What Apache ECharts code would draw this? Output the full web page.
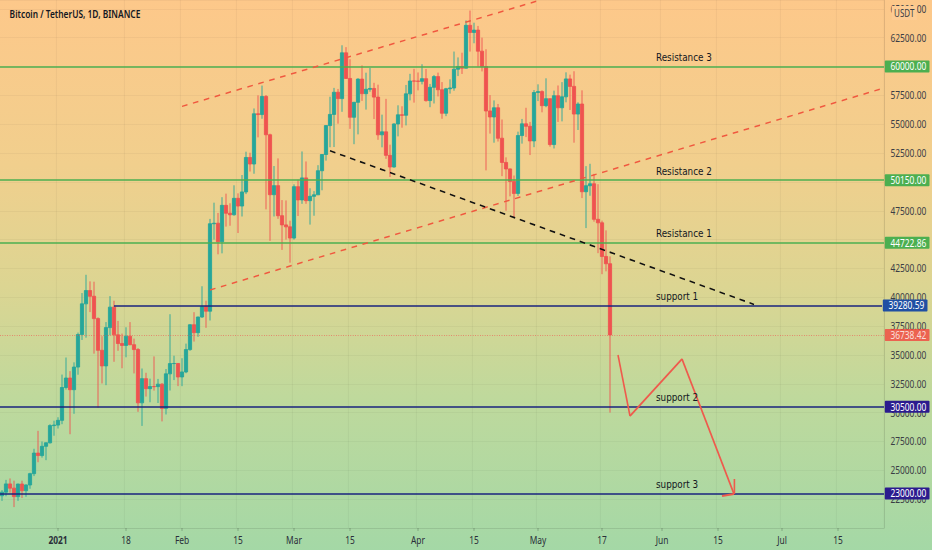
<!DOCTYPE html>
<html>
<head>
<meta charset="utf-8">
<title>Bitcoin / TetherUS, 1D, BINANCE</title>
<script src="https://cdn.jsdelivr.net/npm/echarts@6/dist/echarts.min.js"></script>
<style>
  html, body { margin: 0; padding: 0; overflow: hidden; }
  body {
    width: 932px;
    height: 550px;
    background: linear-gradient(180deg, #fdc88a 0%, #f1cf8d 30%, #dcd592 52%, #bfd99c 72%, #a4d8a6 100%);
  }
  /* the reference is a horizontally squeezed screenshot: draw wide, squeeze by 0.8 */
  #chart {
    width: 1165px;
    height: 550px;
    transform: scaleX(0.8);
    transform-origin: 0 0;
  }
</style>
</head>
<body>
<div id="chart"></div>
<script>
// daily candles, BINANCE BTCUSDT: [open, close, low, high]
var dec2020 = [
  [22797, 23107, 22350, 23285], [23107, 23821, 22750, 24171], [23821, 23455, 23060, 24295],
  [23455, 22720, 21815, 24102], [22720, 23810, 22353, 23837], [23810, 23232, 22600, 24100],
  [23232, 23729, 22703, 23789], [23729, 24712, 23400, 24789], [24712, 26493, 24500, 26867],
  [26493, 26281, 25700, 28422], [26281, 27079, 26101, 27500], [27079, 27385, 25880, 27411],
  [27385, 28876, 27320, 28996], [28876, 28923, 28000, 29300]
];
var jan2021 = [
  [28923, 29331, 28624, 29600], [29331, 32178, 29000, 33300], [32178, 33000, 32000, 34778],
  [33000, 31989, 28130, 33600], [31989, 33950, 29900, 34360], [33950, 36769, 33288, 36939],
  [36769, 39432, 36300, 40365], [39432, 40582, 36500, 41950], [40582, 40088, 38720, 41380],
  [40088, 38150, 35111, 41350], [38150, 35404, 30420, 38264], [35404, 34051, 32531, 36628],
  [34051, 37372, 32380, 37850], [37372, 39144, 36701, 40100], [39144, 36742, 34408, 39700],
  [36742, 35994, 35357, 37950], [35994, 35828, 33850, 36852], [35828, 36631, 34800, 37400],
  [36631, 35891, 35844, 37850], [35891, 35468, 33400, 36415], [35468, 30850, 30071, 35600],
  [30850, 32945, 28850, 33826], [32945, 32078, 31390, 33456], [32078, 32259, 30900, 32945],
  [32259, 32254, 31910, 34875], [32254, 32467, 30837, 32921], [32467, 30366, 29241, 32557],
  [30366, 33364, 29842, 33783], [33364, 34252, 31916, 38531], [34252, 34262, 32825, 34934],
  [34262, 33093, 32300, 34288]
];
var feb2021 = [
  [33093, 33526, 32296, 34717], [33526, 35466, 33418, 35984], [35466, 37618, 35362, 37662],
  [37618, 36936, 36161, 38708], [36936, 38290, 36571, 38310], [38290, 39186, 38215, 40955],
  [39186, 38795, 37351, 39700], [38795, 46374, 37988, 46794], [46374, 46420, 45000, 48200],
  [46420, 44807, 43727, 47310], [44807, 47969, 43810, 48678], [47969, 47287, 46125, 48985],
  [47287, 47153, 46202, 48150], [47153, 48577, 47075, 49707], [48577, 47911, 45570, 49010],
  [47911, 49133, 47003, 50600], [49133, 52119, 48947, 52618], [52119, 51553, 50901, 52530],
  [51553, 55906, 50710, 56368], [55906, 55841, 53863, 57505], [55841, 57408, 55477, 58352],
  [57408, 54088, 47622, 57534], [54088, 48891, 44892, 54183], [48891, 49677, 47003, 51375],
  [49677, 47073, 46800, 52041], [47073, 46276, 44107, 48425], [46276, 46106, 45000, 48394],
  [46106, 45135, 43000, 46638]
];
var mar2021 = [
  [45135, 49587, 45000, 49790], [49587, 48440, 47047, 50200], [48440, 50349, 48100, 52640],
  [50349, 48375, 48100, 51773], [48375, 48751, 46300, 49448], [48751, 48882, 47070, 49200],
  [48882, 50971, 48882, 51450], [50971, 52376, 49274, 52402], [52376, 54885, 51845, 54900],
  [54885, 55851, 53005, 57387], [55851, 57773, 53025, 58150], [57773, 57222, 55050, 58058],
  [57222, 61188, 56078, 61844], [61188, 58968, 58966, 61683], [58968, 55606, 54600, 60633],
  [55606, 56900, 53271, 56938], [56900, 58912, 54123, 58981], [58912, 57649, 57023, 60100],
  [57649, 58030, 56270, 59468], [58030, 58102, 57820, 59880], [58102, 57351, 55450, 58589],
  [57351, 54083, 53650, 58430], [54083, 54340, 53000, 55830], [54340, 52303, 52000, 57200],
  [52303, 51293, 50427, 53229], [51293, 55025, 51244, 55073], [55025, 55817, 53950, 56640],
  [55817, 55777, 54701, 56559], [55777, 57635, 54900, 58405], [57635, 58746, 57071, 59369],
  [58746, 58740, 56873, 59800]
];
var apr2021 = [
  [58740, 58720, 57935, 59490], [58720, 58950, 58455, 60200], [58950, 57051, 56956, 59791],
  [57051, 58202, 56478, 58493], [58202, 59129, 56800, 59272], [59129, 57991, 57413, 59475],
  [57991, 55953, 55473, 58655], [55953, 58077, 55700, 58153], [58077, 58142, 57654, 58894],
  [58142, 59770, 57902, 61300], [59770, 60007, 59177, 60790], [60007, 59860, 59360, 61200],
  [59860, 63575, 59850, 64000], [63575, 62959, 61301, 64854], [62959, 63159, 62020, 63800],
  [63159, 61334, 60000, 63520], [61334, 60006, 59580, 62506], [60006, 56150, 51000, 61500],
  [56150, 55633, 54187, 57526], [55633, 56425, 53400, 57064], [56425, 53787, 53500, 56757],
  [53787, 51690, 50500, 55410], [51690, 51125, 47500, 52131], [51125, 50047, 48750, 51166],
  [50047, 49004, 46930, 50554], [49004, 54021, 48790, 54357], [54021, 55033, 53321, 55459],
  [55033, 54824, 53887, 56428], [54824, 53555, 52330, 55200], [53555, 57750, 53013, 57963]
];
var may2021 = [
  [57750, 57828, 57008, 58458], [57828, 56610, 56035, 57941], [56610, 57213, 56478, 58981],
  [57213, 53241, 53057, 57213], [53241, 57473, 52900, 57911], [57473, 56428, 55200, 58360],
  [56428, 57380, 55250, 58650], [57380, 58928, 56900, 59500], [58928, 58280, 56235, 59300],
  [58280, 55883, 53400, 59595], [55883, 56750, 54500, 56902], [56750, 49150, 48600, 57939],
  [49150, 49670, 46000, 51367], [49670, 49840, 48800, 51570], [49840, 46760, 46555, 50700],
  [46760, 46456, 43825, 49800], [46456, 43538, 42001, 46643], [43538, 42909, 42250, 45800],
  [42909, 36738, 30000, 43546]
];

// x axis: one category per day
var firstDay = Date.UTC(2020, 11, 18);
var dayCount = 221;
var tickDates = ['2021-01-01', '2021-01-18', '2021-02-01', '2021-02-15', '2021-03-01', '2021-03-15',
  '2021-04-01', '2021-04-15', '2021-05-01', '2021-05-17', '2021-06-01', '2021-06-15', '2021-07-01', '2021-07-15'];
var tickLabels = ['2021', '18', 'Feb', '15', 'Mar', '15', 'Apr', '15', 'May', '17', 'Jun', '15', 'Jul', '15'];

// price levels
var resistanceLevels = [60000, 50150, 44722.86];
var resistanceNames = ['Resistance 3', 'Resistance 2', 'Resistance 1'];
var supportLevels = [39280.59, 30500, 23000];
var supportNames = ['support 1', 'support 2', 'support 3'];
var supportTagColors = ['#1f4fa3', '#2b1b8e', '#2b1b8e'];
var support1Start = '2021-01-15';
var lastPrice = 36738.42;
var labelDay = '2021-05-30';

// drawings [date, price]
var channelTop = [['2021-02-01', 56550], ['2021-05-01', 65700]];
var channelBottom = [['2021-02-08', 40630], ['2021-07-26', 58090]];
var trendLine = [['2021-03-10', 52700], ['2021-06-24', 39380]];
var projection = [['2021-05-21', 35000], ['2021-05-24', 29700], ['2021-06-06', 34650], ['2021-06-19', 22950]];
var arrowHead = [['2021-06-16', 22780], ['2021-06-19', 22950], ['2021-06-19', 24250]];

var candles = [].concat(dec2020, jan2021, feb2021, mar2021, apr2021, may2021);

function pad(n) { return n < 10 ? '0' + n : '' + n; }
var days = [];
for (var i = 0; i < dayCount; i++) {
  var d = new Date(firstDay + i * 86400000);
  days.push(d.getUTCFullYear() + '-' + pad(d.getUTCMonth() + 1) + '-' + pad(d.getUTCDate()));
}
var lastDay = days[days.length - 1];

function isTick(idx, value) {
  return tickDates.indexOf(value) >= 0;
}

// axis prices sitting right under a level tag are hidden by it
var tagLevels = resistanceLevels.concat(supportLevels, [lastPrice]);
function coveredByTag(v) {
  return tagLevels.some(function (l) { return Math.abs(l - v) < 400; });
}

var red = '#ef5350';
var green = '#26a69a';
var lineGreen = '#4caf50';
var navy = '#1a237e';
var font = 'Noto Sans';

function segment(a, b, style) {
  return [{ coord: a, lineStyle: style }, { coord: b }];
}

function tag(text, bg) {
  return {
    show: true, position: 'end', distance: 1, formatter: text,
    color: '#fff', backgroundColor: bg, fontSize: 10.5, fontFamily: font,
    padding: [1, 4, 0, 7], borderRadius: 1
  };
}

var lines = [];
resistanceLevels.forEach(function (v) {
  lines.push({ yAxis: v, lineStyle: { color: lineGreen, width: 1.5, type: 'solid' }, label: tag(v.toFixed(2), lineGreen) });
});
supportLevels.forEach(function (v, k) {
  var style = { color: navy, width: 1.5, type: 'solid' };
  if (k === 0) {
    lines.push([{ coord: [support1Start, v], lineStyle: style, label: tag(v.toFixed(2), supportTagColors[k]) }, { coord: [lastDay, v] }]);
  } else {
    lines.push({ yAxis: v, lineStyle: style, label: tag(v.toFixed(2), supportTagColors[k]) });
  }
});
lines.push({ yAxis: lastPrice, lineStyle: { color: red, width: 1, type: [1, 2], opacity: 0.8 }, label: tag(lastPrice.toFixed(2), '#f2463e') });

var dashRed = { color: '#f0583f', width: 1.5, type: [7, 7] };
lines.push(segment(channelTop[0], channelTop[1], dashRed));
lines.push(segment(channelBottom[0], channelBottom[1], dashRed));
lines.push(segment(trendLine[0], trendLine[1], { color: '#111', width: 1.6, type: [7, 6] }));
var arrowStyle = { color: '#ef5a4c', width: 2, type: 'solid' };
for (var p = 0; p < projection.length - 1; p++) {
  lines.push(segment(projection[p], projection[p + 1], arrowStyle));
}
lines.push(segment(arrowHead[0], arrowHead[1], arrowStyle));
lines.push(segment(arrowHead[1], arrowHead[2], arrowStyle));

var notes = [];
resistanceLevels.forEach(function (v, k) { notes.push({ coord: [labelDay, v], text: resistanceNames[k] }); });
supportLevels.forEach(function (v, k) { notes.push({ coord: [labelDay, v], text: supportNames[k] }); });

var chart = echarts.init(document.getElementById('chart'), null, { renderer: 'svg' });
chart.setOption({
  backgroundColor: 'transparent',
  animation: false,
  title: {
    text: 'Bitcoin / TetherUS, 1D, BINANCE',
    left: 7, top: 4,
    textStyle: { fontSize: 10.5, fontWeight: 600, color: '#131722', fontFamily: font }
  },
  grid: { left: 0, right: 60, top: 0, bottom: 22, outerBoundsMode: 'none', containLabel: false },
  xAxis: {
    type: 'category',
    data: days,
    boundaryGap: true,
    axisLine: { show: true, lineStyle: { color: 'rgba(0,0,0,0.08)' } },
    axisTick: { show: true, interval: isTick, alignWithLabel: true, length: 3, lineStyle: { color: 'rgba(0,0,0,0.25)' } },
    axisLabel: {
      interval: isTick,
      margin: 7,
      fontSize: 10.5,
      fontFamily: font,
      color: '#2a2e39',
      formatter: function (v) {
        var t = tickLabels[tickDates.indexOf(v)];
        return t === '2021' ? '{b|2021}' : t;
      },
      rich: { b: { fontWeight: 'bold', fontSize: 10.5, fontFamily: font, color: '#2a2e39' } }
    },
    splitLine: { show: true, interval: isTick, lineStyle: { color: 'rgba(0,0,0,0.05)' } }
  },
  yAxis: {
    type: 'value',
    position: 'right',
    min: 20000,
    max: 65770,
    interval: 2500,
    axisLine: { show: true, lineStyle: { color: 'rgba(0,0,0,0.1)' } },
    axisTick: { show: false },
    axisLabel: {
      showMinLabel: false, showMaxLabel: false,
      margin: 8, fontSize: 10.5, fontFamily: font, color: '#3a3d45',
      formatter: function (v) { return coveredByTag(v) ? '' : v.toFixed(2); }
    },
    splitLine: { show: true, lineStyle: { color: 'rgba(0,0,0,0.045)' } }
  },
  graphic: [{
    type: 'text', right: 19, top: 6, z: 10,
    style: {
      text: 'USDT', fontSize: 10, fontFamily: font, fill: '#3a3d45',
      backgroundColor: '#fdcc93', padding: [2, 3]
    }
  }],
  series: [{
    type: 'candlestick',
    data: candles,
    barWidth: 3.75,
    clip: false,
    itemStyle: { color: green, color0: red, borderColor: green, borderColor0: red, borderWidth: 1 },
    markLine: {
      silent: true,
      symbol: ['none', 'none'],
      label: { show: false },
      data: lines
    },
    markPoint: {
      silent: true,
      symbol: 'circle',
      symbolSize: 0,
      itemStyle: { color: 'transparent' },
      data: notes.map(function (n) {
        return {
          coord: n.coord,
          label: {
            show: true, position: [2.5, -15], formatter: n.text,
            fontSize: 11, fontFamily: 'DejaVu Sans', color: '#131722'
          }
        };
      })
    }
  }]
});
</script>
</body>
</html>
